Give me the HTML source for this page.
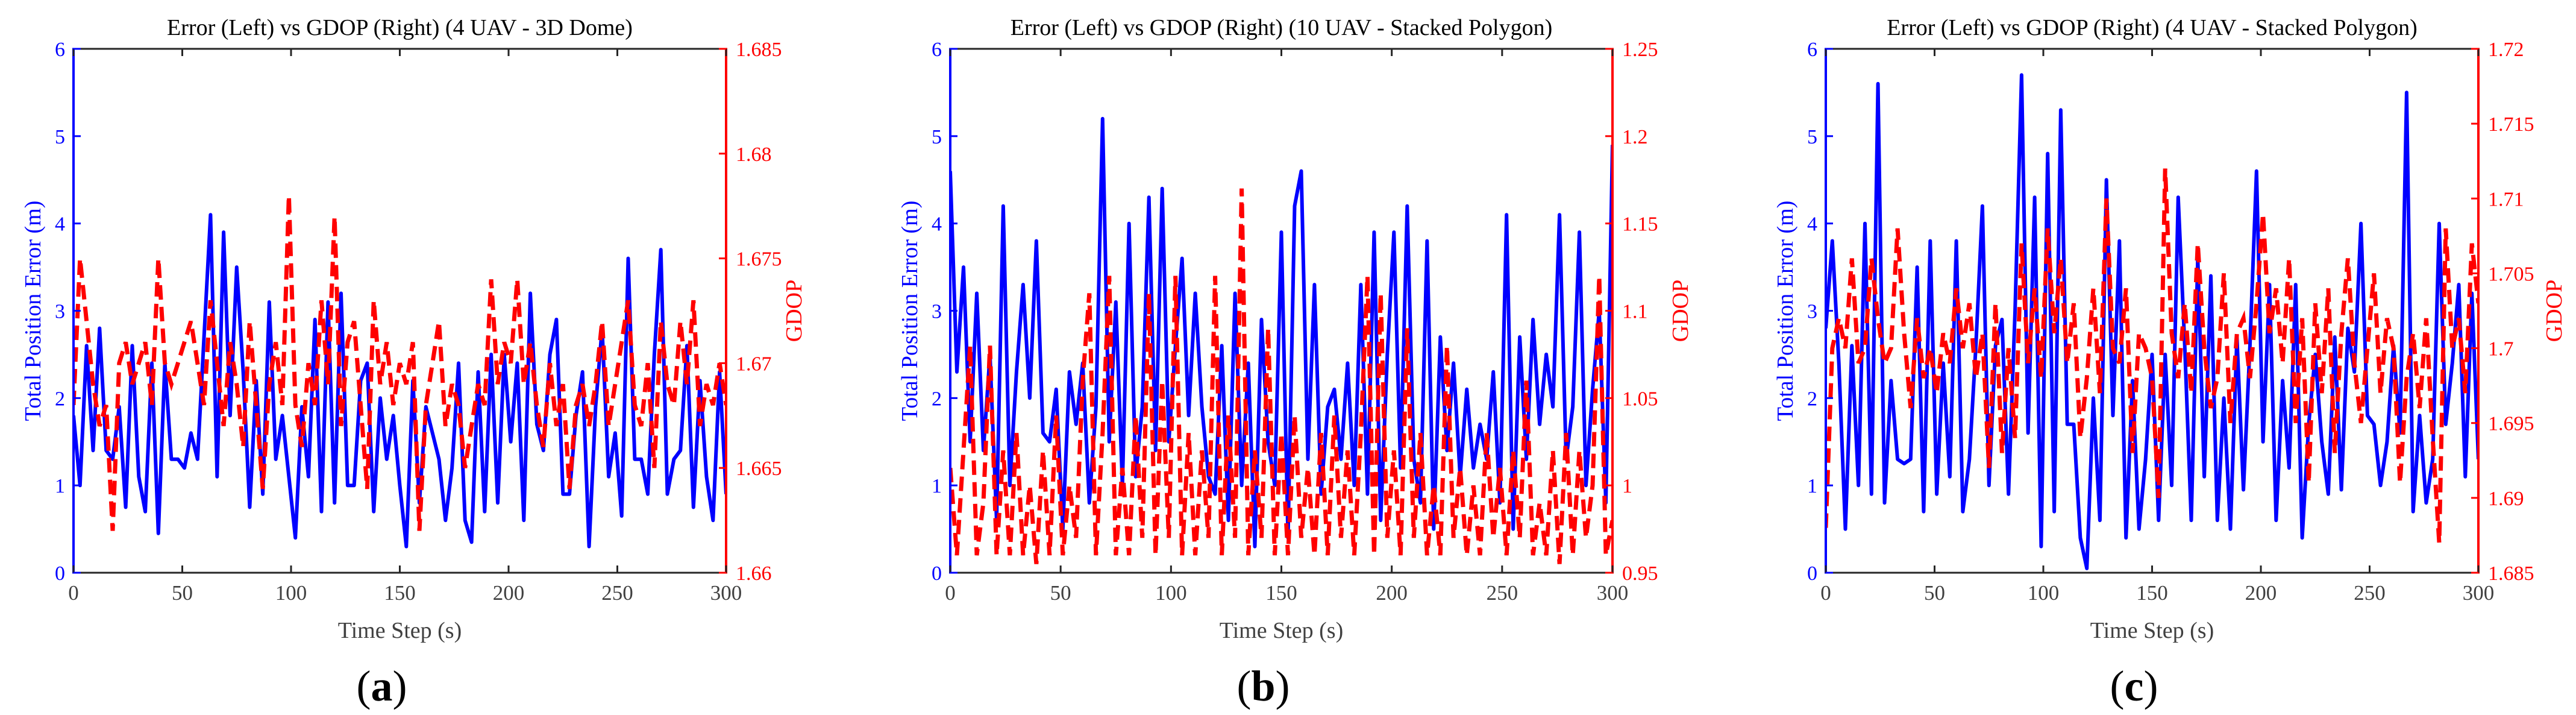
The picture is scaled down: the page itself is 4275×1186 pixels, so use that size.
<!DOCTYPE html>
<html><head><meta charset="utf-8">
<style>
html,body{margin:0;padding:0;background:#fff;}
svg{display:block;font-family:"Liberation Serif",serif;}
</style></head>
<body>
<svg id="fig" width="4275" height="1186" viewBox="0 0 4275 1186" xmlns="http://www.w3.org/2000/svg"></svg>
<script>
const timeDomain = [0, 300];
const xTicks = [0, 50, 100, 150, 200, 250, 300];
const errTicks = [0, 1, 2, 3, 4, 5, 6];

const titleA = "Error (Left) vs GDOP (Right) (4 UAV - 3D Dome)";
const titleB = "Error (Left) vs GDOP (Right) (10 UAV - Stacked Polygon)";
const titleC = "Error (Left) vs GDOP (Right) (4 UAV - Stacked Polygon)";

const gdopTicksA = ["1.66","1.665","1.67","1.675","1.68","1.685"];
const gdopTicksB = ["0.95","1","1.05","1.1","1.15","1.2","1.25"];
const gdopTicksC = ["1.685","1.69","1.695","1.7","1.705","1.71","1.715","1.72"];

const errA = [1.8,1.0,2.6,1.4,2.8,1.4,1.3,1.9,0.75,2.6,1.1,0.7,2.4,0.45,2.4,1.3,1.3,1.2,1.6,1.3,2.7,4.1,1.1,3.9,1.8,3.5,2.3,0.75,2.2,0.9,3.1,1.3,1.8,1.1,0.4,1.9,1.1,2.9,0.7,3.1,0.8,3.2,1.0,1.0,2.2,2.4,0.7,2.0,1.3,1.8,1.0,0.3,2.2,0.8,1.9,1.6,1.3,0.6,1.2,2.4,0.6,0.35,2.3,0.7,2.5,0.8,2.5,1.5,2.4,0.6,3.2,1.7,1.4,2.5,2.9,0.9,0.9,1.8,2.3,0.3,1.9,2.8,1.1,1.6,0.65,3.6,1.3,1.3,0.9,2.5,3.7,0.9,1.3,1.4,2.6,0.75,2.2,1.1,0.6,2.3,0.9];
const gdopA = [1.668,1.675,1.672,1.669,1.667,1.668,1.662,1.670,1.671,1.669,1.670,1.671,1.668,1.675,1.670,1.669,1.670,1.671,1.672,1.670,1.668,1.673,1.670,1.667,1.671,1.669,1.666,1.672,1.668,1.664,1.669,1.671,1.668,1.678,1.668,1.666,1.670,1.668,1.673,1.669,1.677,1.667,1.671,1.672,1.668,1.664,1.673,1.669,1.671,1.668,1.670,1.669,1.671,1.662,1.668,1.670,1.672,1.667,1.669,1.668,1.665,1.667,1.669,1.668,1.674,1.669,1.671,1.670,1.674,1.669,1.671,1.668,1.666,1.670,1.667,1.669,1.664,1.668,1.669,1.667,1.669,1.672,1.667,1.669,1.671,1.673,1.668,1.667,1.670,1.665,1.672,1.669,1.668,1.672,1.669,1.673,1.667,1.669,1.668,1.670,1.668];

const errB = [4.6,2.3,3.5,1.5,3.2,1.4,2.5,0.6,4.2,1.0,2.3,3.3,2.0,3.8,1.6,1.5,2.1,0.5,2.3,1.7,2.4,0.8,1.9,5.2,1.5,3.1,1.0,4.0,1.1,1.9,4.3,1.4,4.4,1.5,2.6,3.6,1.8,3.2,1.9,1.1,0.9,2.6,0.6,3.2,1.0,2.4,0.3,2.9,1.5,1.0,3.9,0.4,4.2,4.6,1.3,3.3,0.9,1.9,2.1,1.3,2.4,1.0,3.3,0.9,3.9,0.6,2.5,3.9,1.2,4.2,1.3,0.8,3.8,0.5,2.7,1.4,2.4,1.1,2.1,1.2,1.7,1.3,2.3,0.8,4.1,0.5,2.7,1.3,2.9,1.7,2.5,1.9,4.1,1.3,1.9,3.9,1.0,2.1,3.0,0.8,4.9];
const gdopB = [1.01,0.96,1.02,1.08,0.96,0.99,1.08,0.96,1.02,0.96,1.03,0.96,1.00,0.955,1.02,0.96,1.04,0.96,1.00,0.97,1.06,1.11,0.96,1.03,1.12,0.96,1.01,0.96,1.04,0.97,1.11,0.96,1.06,0.97,1.12,0.96,1.03,0.96,1.02,0.97,1.12,0.96,1.04,0.97,1.17,0.96,1.02,0.97,1.09,0.96,1.03,0.96,1.04,0.97,1.01,0.96,1.03,0.96,1.04,0.97,1.02,0.96,1.03,1.12,0.96,1.11,0.97,1.02,0.96,1.09,0.97,1.03,0.96,1.00,0.96,1.08,0.97,1.01,0.96,1.00,0.96,1.03,0.97,1.01,0.96,1.02,0.97,1.06,0.96,0.99,0.96,1.02,0.955,1.03,0.96,1.02,0.97,1.00,1.12,0.96,0.98];

const errC = [2.8,3.8,2.4,0.5,2.6,1.0,4.0,0.9,5.6,0.8,2.2,1.3,1.25,1.3,3.5,0.7,3.8,0.9,2.4,1.1,3.8,0.7,1.3,2.6,4.2,1.0,2.6,2.9,0.9,3.0,5.7,1.6,4.3,0.3,4.8,0.7,5.3,1.7,1.7,0.4,0.05,2.0,0.6,4.5,1.8,3.8,0.4,2.2,0.5,1.3,2.5,0.6,2.5,1.0,4.3,2.6,0.6,3.6,1.1,3.4,0.6,2.0,0.5,2.7,0.95,2.6,4.6,1.5,3.3,0.6,2.2,1.2,3.3,0.4,1.7,2.5,1.5,0.9,2.7,0.95,2.8,2.3,4.0,1.8,1.7,1.0,1.5,2.6,1.6,5.5,0.7,1.8,0.8,1.3,4.0,1.7,2.4,3.3,1.1,3.2,1.3];
const gdopC = [1.688,1.700,1.702,1.700,1.706,1.699,1.700,1.706,1.702,1.699,1.700,1.708,1.701,1.696,1.702,1.698,1.700,1.697,1.701,1.699,1.704,1.700,1.703,1.698,1.701,1.692,1.703,1.693,1.700,1.694,1.707,1.699,1.704,1.698,1.708,1.701,1.706,1.699,1.703,1.694,1.698,1.704,1.697,1.710,1.700,1.699,1.704,1.693,1.701,1.700,1.698,1.690,1.712,1.701,1.698,1.703,1.697,1.707,1.700,1.696,1.698,1.705,1.695,1.701,1.702,1.698,1.703,1.709,1.701,1.704,1.699,1.706,1.695,1.702,1.691,1.703,1.697,1.704,1.693,1.701,1.706,1.699,1.695,1.700,1.705,1.697,1.702,1.700,1.691,1.698,1.701,1.696,1.702,1.694,1.687,1.708,1.700,1.702,1.697,1.707,1.703];

const NS = "http://www.w3.org/2000/svg";
const svg = document.getElementById("fig");
function mk(tag, attrs, parent, text) {
  const e = document.createElementNS(NS, tag);
  for (const k in attrs) e.setAttribute(k, attrs[k]);
  if (text !== undefined) e.textContent = text;
  (parent || svg).appendChild(e);
  return e;
}

function panel(key, left, right, title, err, gdop, gTicks, label) {
  const top = 81, bottom = 950;
  const g0 = parseFloat(gTicks[0]), g1 = parseFloat(gTicks[gTicks.length - 1]);
  const xs = v => left + (v - timeDomain[0]) / (timeDomain[1] - timeDomain[0]) * (right - left);
  const ye = v => bottom - v / 6 * (bottom - top);
  const yg = v => bottom - (v - g0) / (g1 - g0) * (bottom - top);
  const g = mk("g", {});
  
  

  const cp = mk("clipPath", {id: "clip" + key}, g);
  mk("rect", {x: left, y: top, width: right - left, height: bottom - top}, cp);
  const ptsE = err.map((v, i) => xs(i * 300 / (err.length - 1)).toFixed(1) + "," + ye(v).toFixed(1)).join(" ");
  const lineE = mk("polyline", {points: ptsE, fill: "none", stroke: "#0000ff", "stroke-width": 6, "stroke-linejoin": "round", "clip-path": "url(#clip" + key + ")"}, g);
  
  
  const ptsG = gdop.map((v, i) => xs(i * 300 / (gdop.length - 1)).toFixed(1) + "," + yg(v).toFixed(1)).join(" ");
  const lineG = mk("polyline", {points: ptsG, fill: "none", stroke: "#ff0000", "stroke-width": 7, "stroke-dasharray": "24 12", "clip-path": "url(#clip" + key + ")"}, g);
  
  

  mk("line", {x1: left, y1: top, x2: right, y2: top, stroke: "#262626", "stroke-width": 3}, g);
  mk("line", {x1: left, y1: bottom, x2: right, y2: bottom, stroke: "#262626", "stroke-width": 3}, g);
  mk("line", {x1: left, y1: top - 1.5, x2: left, y2: bottom + 1.5, stroke: "#0000ff", "stroke-width": 4}, g);
  mk("line", {x1: right, y1: top - 1.5, x2: right, y2: bottom + 1.5, stroke: "#ff0000", "stroke-width": 4}, g);

  xTicks.forEach(t => {
    const x = xs(t);
    mk("line", {x1: x, y1: bottom, x2: x, y2: bottom - 12, stroke: "#262626", "stroke-width": 3}, g);
    mk("line", {x1: x, y1: top, x2: x, y2: top + 12, stroke: "#262626", "stroke-width": 3}, g);
    const tl = mk("text", {x: x, y: 995, "font-size": 35, fill: "#404040", "text-anchor": "middle"}, g, String(t));
    
    
  });
  errTicks.forEach(t => {
    const y = ye(t);
    mk("line", {x1: left, y1: y, x2: left + 12, y2: y, stroke: "#0000ff", "stroke-width": 3}, g);
    const tl = mk("text", {x: left - 14, y: y + 12, "font-size": 34, fill: "#0000ff", "text-anchor": "end"}, g, String(t));
    
    
  });
  gTicks.forEach(t => {
    const y = yg(parseFloat(t));
    mk("line", {x1: right, y1: y, x2: right - 12, y2: y, stroke: "#ff0000", "stroke-width": 3}, g);
    const tl = mk("text", {x: right + 16, y: y + 12, "font-size": 34, fill: "#ff0000"}, g, t);
    
    
  });

  const cx = (left + right) / 2;
  const tt = mk("text", {x: cx, y: 58, "font-size": 38, fill: "#000", "text-anchor": "middle"}, g, title);
  
  
  const xl = mk("text", {x: cx, y: 1058, "font-size": 38, fill: "#404040", "text-anchor": "middle"}, g, "Time Step (s)");
  
  
  const yl = mk("text", {x: 0, y: 0, "font-size": 38, fill: "#0000ff", "text-anchor": "middle", transform: "translate(" + (left - 55) + "," + ((top + bottom) / 2) + ") rotate(-90)"}, g, "Total Position Error (m)");
  
  
  const yr = mk("text", {x: 0, y: 0, "font-size": 38, fill: "#ff0000", "text-anchor": "middle", transform: "translate(" + (right + (gTicks[0].length > 4 ? 138 : 125)) + "," + ((top + bottom) / 2) + ") rotate(-90)"}, g, "GDOP");
  
  
  const pl = mk("text", {x: cx - 30, y: 1162, "font-size": 72, fill: "#000", "text-anchor": "middle"}, g);
  
  
  mk("tspan", {}, pl, "(");
  mk("tspan", {"font-weight": "bold"}, pl, label);
  mk("tspan", {}, pl, ")");
}

panel("a", 122, 1205, titleA, errA, gdopA, gdopTicksA, "a");
panel("b", 1577, 2676, titleB, errB, gdopB, gdopTicksB, "b");
panel("c", 3030, 4113, titleC, errC, gdopC, gdopTicksC, "c");
</script>
</body></html>
